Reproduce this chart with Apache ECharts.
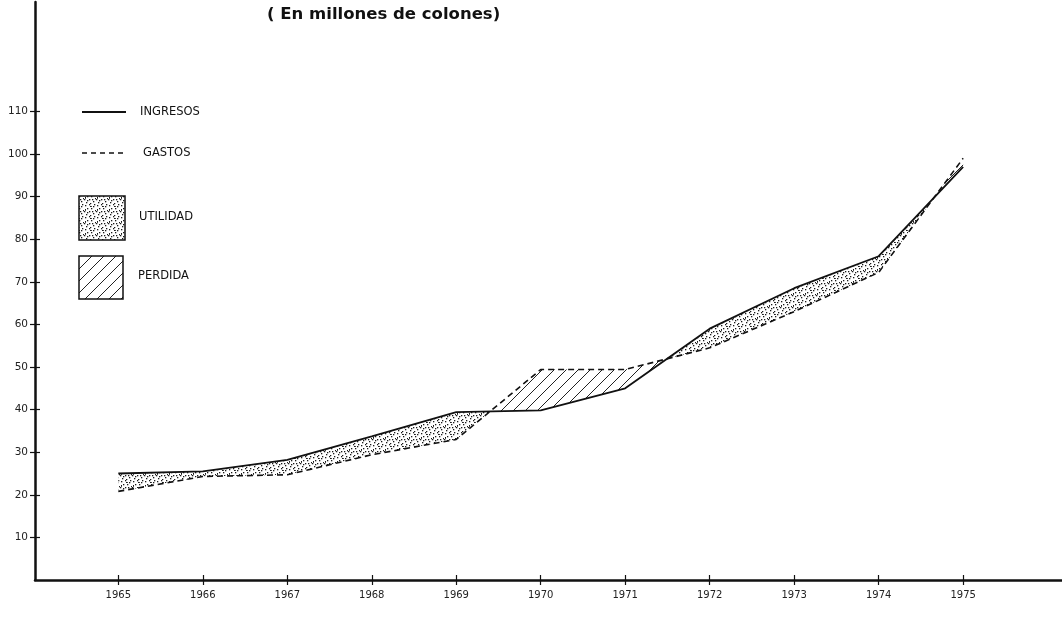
<!DOCTYPE html>
<html><head><meta charset="utf-8">
<script src="https://cdn.jsdelivr.net/npm/echarts@6/dist/echarts.min.js"></script>
<style>html,body{margin:0;padding:0;background:#fff}#c{width:1062px;height:617px}</style>
</head><body><div id="c"></div>
<script>
const years = [1965,1966,1967,1968,1969,1970,1971,1972,1973,1974,1975];
const ingresos = [25,25.5,28.2,33.7,39.4,39.8,45,59,68.5,76,97];
const gastos = [20.8,24.3,24.7,29.4,33,49.4,49.4,54.5,63,72.2,99];
const yTicks = [10,20,30,40,50,60,70,80,90,100,110];
const xTicks = years;
const titleText = '( En millones de colones)';
const legendNames = ['INGRESOS','GASTOS','UTILIDAD','PERDIDA'];

function makeStipple(){
  const c=document.createElement('canvas'); c.width=12; c.height=12;
  const g=c.getContext('2d'); g.fillStyle='#1a1a1a';
  const dots=[[1,1],[5,0],[9,2],[3,4],[7,4],[11,6],[0,7],[5,7],[9,9],[2,10],[6,11],[10,0],[8,7],[3,8]];
  dots.forEach(d=>g.fillRect(d[0],d[1],1.3,1.3));
  g.fillRect(6,2,1.8,1);
  g.fillRect(1,5,1,1.8);
  return c;
}
function makeHatch(){
  const s=12;
  const c=document.createElement('canvas'); c.width=s; c.height=s;
  const g=c.getContext('2d'); g.strokeStyle='#222'; g.lineWidth=1;
  g.beginPath();
  g.moveTo(0,s); g.lineTo(s,0);
  g.moveTo(-s/2,s/2); g.lineTo(s/2,-s/2);
  g.moveTo(s/2,s*1.5); g.lineTo(s*1.5,s/2);
  g.stroke();
  return c;
}
const stipple={image:makeStipple(),repeat:'repeat'};
const hatch={image:makeHatch(),repeat:'repeat'};

function renderBands(params, api){
  const children=[];
  let upper=[], lower=[], sign=null, pa=null, pd=null;
  function flush(){
    if(upper.length>1){
      children.push({type:'polygon',shape:{points:upper.concat(lower.slice().reverse())},
        style:{fill: sign>0?stipple:hatch, stroke:null}});
    }
  }
  for(let i=0;i<years.length;i++){
    const a=api.coord([years[i],ingresos[i]]), b=api.coord([years[i],gastos[i]]);
    const d=ingresos[i]-gastos[i];
    const s=d>=0?1:-1;
    if(sign===null){sign=s;upper.push(a);lower.push(b);}
    else if(s!==sign){
      const t=pd/(pd-d);
      const p=[pa[0]+t*(a[0]-pa[0]), pa[1]+t*(a[1]-pa[1])];
      upper.push(p); lower.push(p); flush();
      upper=[p,a]; lower=[p,b]; sign=s;
    } else {upper.push(a);lower.push(b);}
    pa=a; pd=d;
  }
  flush();
  return {type:'group',children};
}

const chart=echarts.init(document.getElementById('c'),null,{renderer:'canvas'});
const txt={fontFamily:'DejaVu Sans',fontSize:11.5,fill:'#111',fontWeight:'normal'};
const XMIN=1964.014, XMAX=1976.17, YMAX=(580-2)/4.26;
const tickStyle={color:'#111',width:1.2};
chart.setOption({
  backgroundColor:'#fff',
  animation:false,
  title:{text:titleText,left:262,top:1,textStyle:{fontFamily:'DejaVu Sans',fontSize:16.5,fontWeight:'bold',color:'#111'}},
  grid:{left:35,right:0,top:2,bottom:37},
  xAxis:[{type:'value',min:XMIN,max:XMAX,
    axisLine:{lineStyle:{color:'#111',width:2.5}},
    splitLine:{show:false},
    axisTick:{customValues:xTicks,length:5,lineStyle:tickStyle},
    axisLabel:{customValues:xTicks,margin:10,fontFamily:'DejaVu Sans',fontSize:10,color:'#222',formatter:v=>String(v)}},
    {type:'value',min:XMIN,max:XMAX,position:'bottom',
    axisLine:{show:false},splitLine:{show:false},
    axisTick:{show:true,inside:true,customValues:xTicks,length:5,lineStyle:tickStyle},
    axisLabel:{show:false}}],
  yAxis:[{type:'value',min:0,max:YMAX,
    axisLine:{show:true,lineStyle:{color:'#111',width:2.5}},
    splitLine:{show:false},
    axisTick:{show:true,customValues:yTicks,length:5,lineStyle:tickStyle},
    axisLabel:{customValues:yTicks,margin:7,fontFamily:'DejaVu Sans',fontSize:10.5,color:'#222',formatter:v=>String(v)}},
    {type:'value',min:0,max:YMAX,position:'left',
    axisLine:{show:false},splitLine:{show:false},
    axisTick:{show:true,inside:true,customValues:yTicks,length:5,lineStyle:tickStyle},
    axisLabel:{show:false}}],
  graphic:[
    {type:'line',shape:{x1:82,y1:112,x2:126,y2:112},style:{stroke:'#111',lineWidth:1.8}},
    {type:'text',x:140,y:106,style:Object.assign({text:legendNames[0]},txt)},
    {type:'line',shape:{x1:82,y1:153,x2:126,y2:153},style:{stroke:'#111',lineWidth:1.5,lineDash:[5,4]}},
    {type:'text',x:143,y:147,style:Object.assign({text:legendNames[1]},txt)},
    {type:'rect',shape:{x:79,y:196,width:46,height:44},style:{fill:stipple,stroke:'#111',lineWidth:1.5}},
    {type:'text',x:139,y:211,style:Object.assign({text:legendNames[2]},txt)},
    {type:'rect',shape:{x:79,y:256,width:44,height:43},style:{fill:hatch,stroke:'#111',lineWidth:1.5}},
    {type:'text',x:138,y:270,style:Object.assign({text:legendNames[3]},txt)}
  ],
  series:[
    {type:'custom',renderItem:renderBands,data:[[1970,50]],z:1,silent:true,clip:true},
    {name:legendNames[0],type:'line',data:years.map((y,i)=>[y,ingresos[i]]),symbol:'none',z:3,
      lineStyle:{color:'#111',width:1.8}},
    {name:legendNames[1],type:'line',data:years.map((y,i)=>[y,gastos[i]]),symbol:'none',z:3,
      lineStyle:{color:'#111',width:1.6,type:[6,4]}}
  ]
});
</script></body></html>
